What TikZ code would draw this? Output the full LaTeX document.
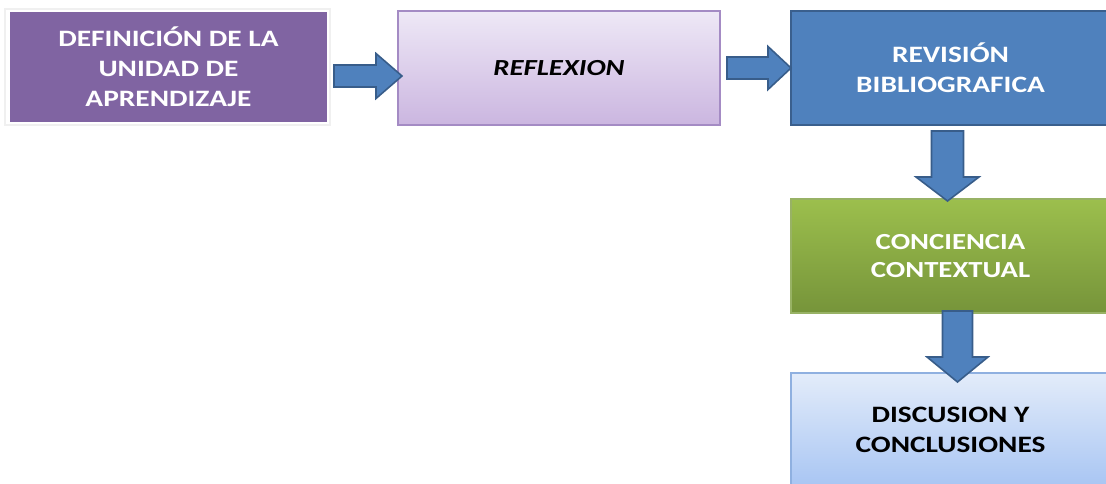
\documentclass[tikz,border=0pt]{standalone}
\usepackage{fontspec}
\setmainfont{Carlito}[FakeStretch=1.25]
\usetikzlibrary{calc}

\definecolor{defFill}{HTML}{8064A2}
\definecolor{defFrame}{HTML}{F0F0F0}
\definecolor{refTop}{HTML}{EEE8F6}
\definecolor{refBot}{HTML}{CBB6E0}
\definecolor{refEdge}{HTML}{A48BC4}
\definecolor{revFill}{HTML}{4F81BD}
\definecolor{revEdge}{HTML}{3A5F8D}
\definecolor{conTop}{HTML}{9CBF4D}
\definecolor{conBot}{HTML}{76943A}
\definecolor{conEdge}{HTML}{98B265}
\definecolor{disTop}{HTML}{E3ECFA}
\definecolor{disBot}{HTML}{A8C5F3}
\definecolor{disEdge}{HTML}{8FB0E0}
\definecolor{arrFill}{HTML}{4F81BD}
\definecolor{arrEdge}{HTML}{385D8A}

% block arrow: start, tip, shaft half width, head half width, head length
\newcommand\blockarrow[5]{%
  \coordinate (ba-s) at (#1);
  \coordinate (ba-e) at (#2);
  \coordinate (ba-h) at ($(ba-e)!#5!(ba-s)$);
  \draw[fatarrow]
    ($(ba-s)!#3!90:(ba-e)$) -- ($(ba-h)!#3!90:(ba-e)$) --
    ($(ba-h)!#4!90:(ba-e)$) -- (ba-e) --
    ($(ba-h)!#4!-90:(ba-e)$) -- ($(ba-h)!#3!-90:(ba-e)$) --
    ($(ba-s)!#3!-90:(ba-e)$) -- cycle;}

\begin{document}
\begin{tikzpicture}[x=1pt,y=-1pt,
  stagebox/.style={rectangle, inner sep=0pt, outer sep=0pt, align=center,
    font=\bfseries\fontsize{23.5}{30}\selectfont},
  fatarrow/.style={fill=arrFill, draw=arrEdge, line width=1.6pt, line join=miter}]
\useasboundingbox (0,0) rectangle (1106,483);
\clip (0,0) rectangle (1106,483);

% faint frame round the first stage
\draw[defFrame, line width=1.5pt] (5,9) rectangle (330,125);

\node[stagebox, fill=defFill, text=white, minimum width=317pt, minimum height=110pt]
  (def) at (168.5,67) {DEFINICIÓN DE LA\\UNIDAD DE\\APRENDIZAJE};

\node[stagebox, top color=refTop, bottom color=refBot, draw=refEdge, line width=1.5pt,
  text=black, minimum width=322pt, minimum height=114pt,
  font=\bfseries\itshape\fontsize{23}{30}\selectfont]
  (refl) at (559,68) {REFLEXION};

\node[stagebox, fill=revFill, draw=revEdge, line width=2.5pt, text=white,
  minimum width=319pt, minimum height=114pt]
  (rev) at (950.5,68) {REVISIÓN\\BIBLIOGRAFICA};

\node[stagebox, top color=conTop, bottom color=conBot, draw=conEdge, line width=1.5pt,
  text=white, minimum width=319pt, minimum height=114pt,
  font=\bfseries\fontsize{23}{28}\selectfont]
  (con) at (950.5,256) {CONCIENCIA\\CONTEXTUAL};

\node[stagebox, top color=disTop, bottom color=disBot, draw=disEdge, line width=1.5pt,
  text=black, minimum width=319pt, minimum height=114pt]
  (dis) at (950.5,430) {DISCUSION Y\\CONCLUSIONES};

% connectors between the stages
\blockarrow{$(def.east)+(7,9)$}{$(refl.west)+(4,8)$}{11pt}{22.5pt}{26pt}
\blockarrow{$(refl.east)+(7,0)$}{$(rev.west)$}{11pt}{21.5pt}{23pt}
\blockarrow{$(rev.south)+(-3,6)$}{$(con.north)+(-3,2)$}{16pt}{31.5pt}{24pt}
\blockarrow{$(con.south)+(7,-2)$}{$(dis.north)+(7,9)$}{15pt}{30.5pt}{25pt}
\end{tikzpicture}
\end{document}
